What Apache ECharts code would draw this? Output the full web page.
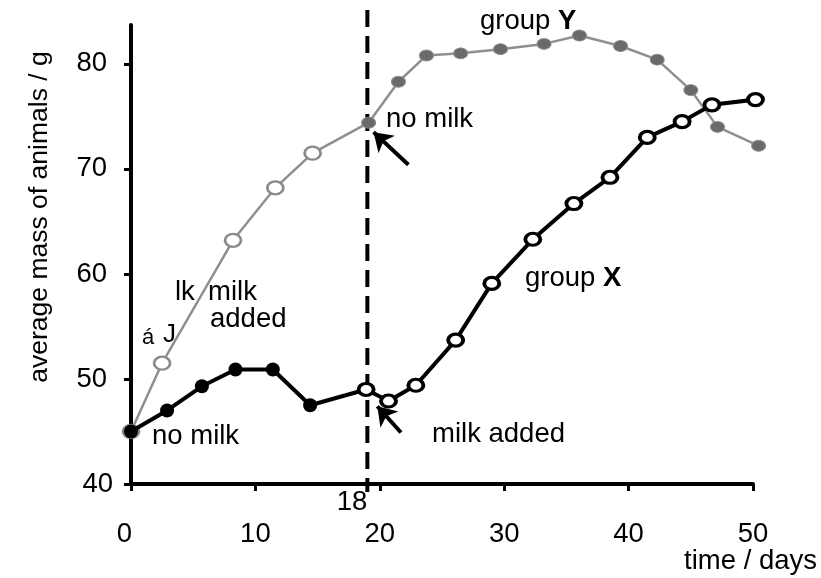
<!DOCTYPE html>
<html>
<head>
<meta charset="utf-8">
<script src="https://cdn.jsdelivr.net/npm/echarts@6/dist/echarts.min.js"></script>
<style>html,body{margin:0;padding:0;background:#fff}#c{width:821px;height:578px}</style>
</head>
<body>
<div id="c"></div>
<script>
// ---- data ----
const xTicks = [0, 10, 20, 30, 40, 50];
const yTicks = [40, 50, 60, 70, 80];

const daysX = [0, 2.9, 5.7, 8.4, 11.4, 14.4, 18.9, 20.7, 22.9, 26.1, 29.0, 32.3, 35.6, 38.5, 41.5, 44.3, 46.7, 50.2];
const massX = [45, 47.0, 49.3, 50.9, 50.9, 47.5, 49.0, 47.9, 49.4, 53.7, 59.1, 63.3, 66.7, 69.2, 73.0, 74.5, 76.1, 76.6];

const daysY = [0, 2.5, 8.2, 11.6, 14.6, 19.1, 21.5, 23.75, 26.5, 29.7, 33.2, 36.05, 39.35, 42.3, 45.0, 47.15, 50.45];
const massY = [45, 51.5, 63.2, 68.2, 71.5, 74.4, 78.3, 80.8, 81.0, 81.4, 81.9, 82.7, 81.7, 80.4, 77.5, 74.0, 72.2];

const switchDay = 18;        // milk regime changes (label)
const switchLineDay = 19;    // where the dashed line is drawn in the picture

// arrows [from, to] in data coordinates
const arrowNoMilkY = [[22.3, 70.4], [19.5, 73.5]];
const arrowMilkX = [[21.7, 44.9], [19.8, 47.4]];

const FONT = "'Liberation Sans', Arial, Helvetica, sans-serif";
const FS = 27.5;

const styleXnoMilk = { symbolSize: 14, itemStyle: { color: '#000', borderWidth: 0 } };
const styleXmilk = { symbolSize: [15, 12], itemStyle: { color: '#fff', borderColor: '#000', borderWidth: 3.5 } };
const styleYmilk = { symbolSize: [16, 13], itemStyle: { color: '#fff', borderColor: '#8a8a8a', borderWidth: 2.5 } };
const styleYnoMilk = { symbolSize: [14, 11], itemStyle: { color: '#6a6a6a', borderColor: '#8a8a8a', borderWidth: 1 } };

function points(days, mass, before, after) {
  return days.map((d, i) => Object.assign({ value: [d, mass[i]] }, d < switchDay ? before : after));
}

const chart = echarts.init(document.getElementById('c'), null, { renderer: 'canvas' });

const option = {
  animation: false,
  backgroundColor: '#fff',
  grid: { left: 131, right: 68, top: 25, bottom: 94, containLabel: false },
  xAxis: {
    type: 'value', min: 0, max: 50, interval: 10,
    splitLine: { show: false },
    axisLine: { show: true, lineStyle: { color: '#000', width: 4 } },
    axisTick: { show: true, length: 7, lineStyle: { color: '#000', width: 3 } },
    axisLabel: {
      margin: 36, color: '#000', fontSize: FS, fontFamily: FONT,
      formatter: v => (v === 0 ? '{z|0}' : String(v)),
      rich: { z: { fontSize: FS, fontFamily: FONT, color: '#000', padding: [0, 13, 0, 0] } }
    }
  },
  yAxis: {
    type: 'value', min: 40, max: 83.7, interval: 10,
    splitLine: { show: false },
    axisLine: { show: true, lineStyle: { color: '#000', width: 4 } },
    axisTick: { show: true, length: 7, lineStyle: { color: '#000', width: 3 } },
    axisLabel: {
      margin: 18, color: '#000', fontSize: FS, fontFamily: FONT,
      showMaxLabel: false,
      formatter: v => (yTicks.indexOf(v) < 0 ? '' : (v === 40 ? '{f|40}' : '{n|' + v + '}')),
      rich: {
        n: { fontSize: FS, fontFamily: FONT, color: '#000', padding: [0, 6, 0, 0] },
        f: { fontSize: FS, fontFamily: FONT, color: '#000', padding: [0, 0, 0, 0] }
      }
    }
  },
  series: [
    {
      name: 'group Y', type: 'line', clip: false, z: 3,
      symbol: 'circle', showSymbol: true, showAllSymbol: true,
      lineStyle: { color: '#8f8f8f', width: 2.5 },
      data: points(daysY, massY, styleYmilk, styleYnoMilk)
    },
    {
      name: 'group X', type: 'line', clip: false, z: 4,
      symbol: 'circle', showSymbol: true, showAllSymbol: true,
      lineStyle: { color: '#000', width: 4 },
      data: points(daysX, massX, styleXnoMilk, styleXmilk)
    },
    {
      name: 'arrows', type: 'line', data: [], z: 5,
      markLine: {
        silent: true, animation: false,
        symbol: ['none', 'arrow'], symbolSize: 18,
        label: { show: false },
        lineStyle: { color: '#000', width: 4, type: 'solid' },
        itemStyle: { color: '#000' },
        data: [
          [{ coord: arrowNoMilkY[0] }, { coord: arrowNoMilkY[1] }],
          [{ coord: arrowMilkX[0] }, { coord: arrowMilkX[1] }]
        ]
      }
    }
  ]
};

chart.setOption(option);

// dashed line at the milk switch: x from the axis scale, vertical extent beyond the plot
const px = chart.convertToPixel({ gridIndex: 0 }, [switchLineDay, 40])[0];

function txt(text, x, y, extra) {
  return {
    type: 'text', z: 10, silent: true,
    style: Object.assign({
      text: text, x: x, y: y, fill: '#000',
      fontSize: FS, fontFamily: FONT,
      textAlign: 'left', textVerticalAlign: 'middle'
    }, extra || {})
  };
}

chart.setOption({
  graphic: [
    {
      type: 'line', z: 1, silent: true,
      shape: { x1: px, y1: 10, x2: px, y2: 492 },
      style: { stroke: '#000', lineWidth: 4, lineDash: [17, 9] }
    },
    txt('group {b|Y}', 480, 21, { rich: { b: { fontWeight: 'bold', fontSize: FS, fontFamily: FONT } } }),
    txt('no milk', 386, 119),
    txt('group {b|X}', 525, 278, { rich: { b: { fontWeight: 'bold', fontSize: FS, fontFamily: FONT } } }),
    txt('milk added', 432, 434),
    txt('no milk', 152, 436),
    txt('lk', 175, 292),
    txt('milk', 208, 292),
    txt('added', 210, 319),
    txt('á', 142, 338, { fontSize: 22 }),
    txt('J', 163, 335, { fontSize: 26 }),
    txt(String(switchDay), 352, 502, { textAlign: 'center' }),
    txt('time / days', 817, 561, { textAlign: 'right' }),
    {
      type: 'text', z: 10, silent: true, x: 40, y: 217, rotation: Math.PI / 2,
      style: {
        text: 'average mass of animals / g', x: 0, y: 0, fill: '#000',
        fontSize: FS - 1, fontFamily: FONT, textAlign: 'center', textVerticalAlign: 'middle'
      }
    }
  ]
});
</script>
</body>
</html>
